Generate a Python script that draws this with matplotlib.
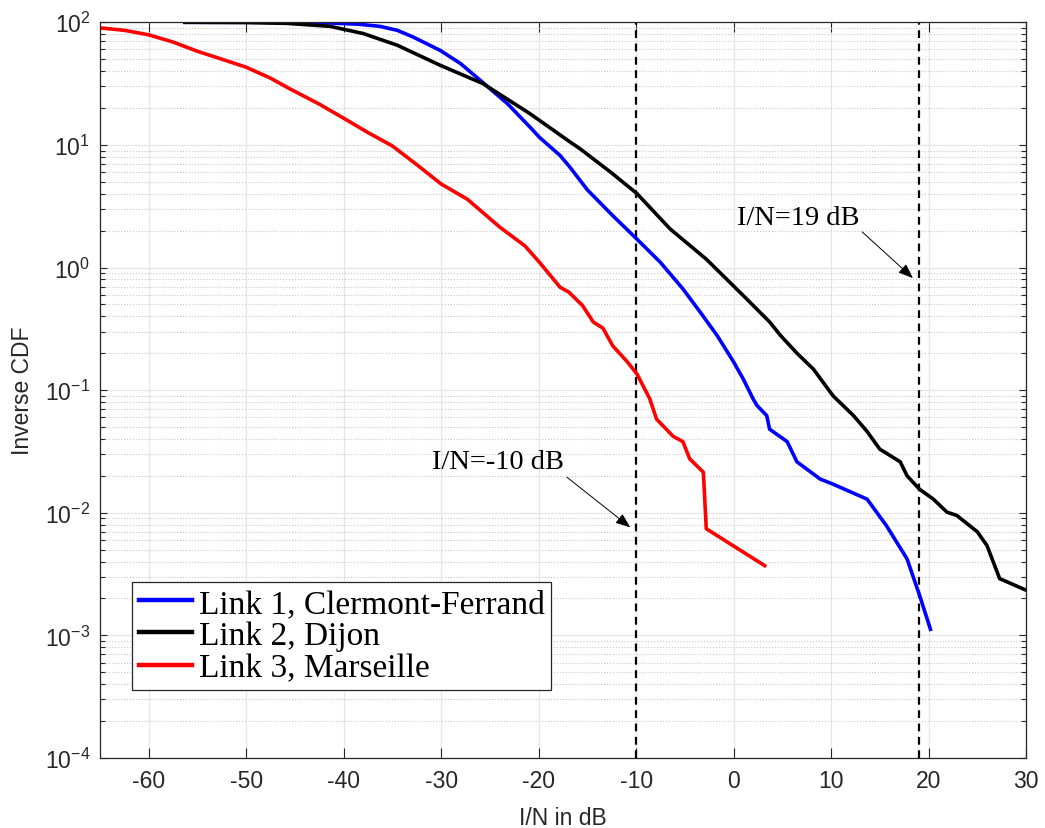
import matplotlib
matplotlib.use("Agg")
import matplotlib.pyplot as plt
from matplotlib.ticker import LogLocator, NullFormatter, FixedLocator

plt.rcParams['font.family'] = ['Liberation Sans', 'DejaVu Sans']
plt.rcParams['mathtext.default'] = 'regular'
plt.rcParams['axes.unicode_minus'] = False

# Link 1, Clermont-Ferrand (blue)
x_link1 = [-56.3, -50, -45.8, -41.4, -38.5, -36.3, -34.5, -32.9, -30.1, -28.0, -26.0,
           -23.2, -20.9, -19.9, -17.8, -16.8, -15.0, -12.5, -9.9, -7.5, -5.2, -3.4,
           -1.7, 0.0, 1.0, 2.0, 2.4, 3.4, 3.7, 5.5, 6.5, 8.9, 10.2, 13.7, 15.7, 17.8,
           19.1, 20.2]
y_link1 = [100, 100, 99.8, 98.7, 96.5, 92.7, 86, 76, 59, 46, 33.7,
           21.7, 14, 11.5, 8.2, 6.6, 4.3, 2.7, 1.7, 1.1, 0.67, 0.43,
           0.28, 0.17, 0.123, 0.085, 0.075, 0.062, 0.048, 0.038, 0.026, 0.0188, 0.0171,
           0.0129, 0.0078, 0.0042, 0.0021, 0.00112]

# Link 2, Dijon (black)
x_link2 = [-56.3, -50, -45.8, -41.4, -38.0, -34.5, -30.1, -25.7, -20.9, -16.8, -15.75,
           -12.5, -9.9, -6.5, -2.8, 1.0, 3.7, 4.8, 6.5, 8.2, 10.2, 12.3, 13.7, 15.0,
           17.1, 17.8, 19.1, 20.5, 21.9, 22.9, 25.0, 26.0, 27.3, 30.2]
y_link2 = [100, 99.5, 98, 92.7, 81, 65, 44.6, 31.6, 18, 10.6, 9.3,
           5.9, 4.0, 2.06, 1.17, 0.59, 0.36, 0.28, 0.2, 0.148, 0.09, 0.062, 0.046, 0.033,
           0.026, 0.020, 0.0155, 0.0129, 0.0101, 0.0095, 0.0070, 0.0054, 0.0029, 0.0023]

# Link 3, Marseille (red)
x_link3 = [-65, -62.5, -60, -57.5, -55, -52.5, -50, -47.5, -45.5, -42.5, -40, -37.5,
           -35, -32.5, -30, -27.3, -24, -21.4, -19.9, -17.8, -16.9, -15.5, -14.4,
           -13.4, -12.4, -10.9, -9.9, -8.6, -7.9, -6.2, -5.2, -4.5, -3.1, -2.8, 3.2]
y_link3 = [90, 86, 79, 69, 58, 50, 43, 35, 28.6, 21.5, 16.5, 12.6,
           9.8, 6.9, 4.8, 3.6, 2.14, 1.5, 1.1, 0.69, 0.63, 0.49, 0.36,
           0.32, 0.23, 0.17, 0.135, 0.085, 0.058, 0.042, 0.038, 0.0275, 0.0214, 0.0074, 0.0037]

labels = ["Link 1, Clermont-Ferrand", "Link 2, Dijon", "Link 3, Marseille"]
thresholds = [-10, 19]
x_ticks = [-60, -50, -40, -30, -20, -10, 0, 10, 20, 30]
y_ticks = [1e-4, 1e-3, 1e-2, 1e-1, 1e0, 1e1, 1e2]

gray = '#262626'

fig = plt.figure(figsize=(10.45, 8.29), dpi=100)
ax = fig.add_axes([0.0957, 0.0845, 0.8861, 0.8874])

ax.plot(x_link1, y_link1, color='#0000ff', lw=2.6, label=labels[0])
ax.plot(x_link2, y_link2, color='black', lw=2.6, label=labels[1])
ax.plot(x_link3, y_link3, color='#ff0000', lw=2.6, label=labels[2])

for t in thresholds:
    ax.axvline(t, color='black', ls=(0, (3.5, 2.5)), lw=1.6, zorder=1)

ax.set_yscale('log')
ax.set_xlim(-65, 30)
ax.set_ylim(1e-4, 1e2)
ax.xaxis.set_major_locator(FixedLocator(x_ticks))
ax.yaxis.set_major_locator(FixedLocator(y_ticks))
ax.yaxis.set_minor_locator(LogLocator(base=10, subs=range(2, 10), numticks=20))
ax.yaxis.set_minor_formatter(NullFormatter())

ax.grid(True, which='major', color='#e6e6e6', lw=0.9, ls='-')
ax.grid(True, which='minor', axis='y', color='#c8c8c8', lw=0.8, ls=':')
ax.set_axisbelow(True)

ax.tick_params(which='both', direction='in', top=True, right=True, colors=gray,
               labelsize=16.5, width=0.8)
ax.tick_params(axis='x', which='major', length=7, pad=8)
ax.tick_params(axis='y', which='major', length=5, pad=7)
ax.tick_params(axis='y', which='minor', length=3.5)
for s in ax.spines.values():
    s.set_color(gray)
    s.set_linewidth(0.9)

ax.set_xlabel("I/N in dB", fontsize=16.5, color=gray, labelpad=10)
ax.set_ylabel("Inverse CDF", fontsize=16.5, color=gray, labelpad=8)

arrow = dict(arrowstyle='-|>,head_length=0.9,head_width=0.35', color='black', lw=0.7,
             shrinkA=0, shrinkB=0)
ax.annotate("", xy=(18.4, 0.82), xytext=(13.2, 1.95), arrowprops=arrow)
ax.text(0.35, 2.58, "I/N=19 dB", fontsize=20.5, family='Liberation Serif',
        va='center', ha='left')
ax.annotate("", xy=(-10.6, 0.0076), xytext=(-17.1, 0.0195), arrowprops=arrow)
ax.text(-30.9, 0.0264, "I/N=-10 dB", fontsize=20.5, family='Liberation Serif',
        va='center', ha='left')

leg = ax.legend(loc='lower left', bbox_to_anchor=(0.0346, 0.0924), borderaxespad=0,
                prop={'family': 'Liberation Serif', 'size': 24}, fancybox=False,
                framealpha=1, edgecolor='#262626', handlelength=1.6,
                handletextpad=0.2, borderpad=0.2, labelspacing=0.05)
leg.get_frame().set_linewidth(0.9)
for line in leg.get_lines():
    line.set_linewidth(3.2)

fig.savefig("out.png", dpi=100)
